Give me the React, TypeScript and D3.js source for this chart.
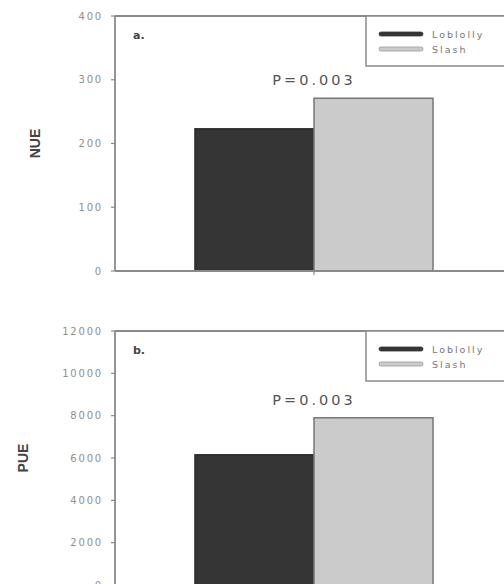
import React from 'react';
import * as d3 from 'd3';

const species = ['Loblolly', 'Slash'];
const nueValues = [223, 271];
const pueValues = [6150, 7900];
const nueTicks = [0, 100, 200, 300, 400];
const pueTicks = [0, 2000, 4000, 6000, 8000, 10000, 12000];

const C = { dark: '#353535', light: '#cbcbcb', axis: '#8a8a8a', tick: '#8f8f8f', text: '#555' };
const FONT = '"DejaVu Sans", sans-serif';

type PanelProps = {
  top: number; bottom: number; label: string; yLabel: string;
  values: number[]; ticks: number[]; max: number; yLabelX: number;
};

function Panel({ top, bottom, label, yLabel, values, ticks, max, yLabelX }: PanelProps) {
  const left = 115, right = 513;
  const y = d3.scaleLinear().domain([0, max]).range([bottom, top]);
  const group = d3.scaleBand().domain(['all']).range([left, right]).paddingOuter(0.336).paddingInner(0);
  const x = d3.scaleBand().domain(species).range([group('all')!, group('all')! + group.bandwidth()]);
  const mid = group('all')! + group.bandwidth() / 2;
  const pY = y(d3.max(values)!) - 13;
  return (
    <g>
      {/* axes frame */}
      <line x1={left} x2={left} y1={top} y2={bottom} stroke={C.axis} strokeWidth={1.8} />
      <line x1={left} x2={520} y1={top} y2={top} stroke={C.axis} strokeWidth={1.8} />
      {ticks.map(t => (
        <g key={t}>
          <line x1={left - 4} x2={left} y1={y(t)} y2={y(t)} stroke={C.axis} strokeWidth={1.2} />
          <text x={left - 12} y={y(t) + 3.5} textAnchor="end" fontFamily={FONT} fontSize={10}
            letterSpacing={1.8} fill={C.tick}>{t}</text>
        </g>
      ))}
      <text transform={`translate(${yLabelX},${(top + bottom) / 2}) rotate(-90)`} textAnchor="middle"
        fontFamily='"Liberation Sans", Arial, sans-serif' fontWeight="bold" fontSize={14} fill="#444">{yLabel}</text>
      <text x={left + 18} y={top + 23} fontFamily={FONT} fontWeight="bold" fontSize={11} fill="#444">{label}</text>
      {/* bars */}
      {values.map((v, i) => (
        <rect key={species[i]} x={x(species[i])!} y={y(v)} width={x.bandwidth()} height={bottom - y(v)}
          fill={i === 0 ? C.dark : C.light} stroke={i === 0 ? '#2a2a2a' : '#777'} strokeWidth={1.5} />
      ))}
      <line x1={left} x2={520} y1={bottom} y2={bottom} stroke={C.axis} strokeWidth={1.8} />
      <line x1={mid} x2={mid} y1={bottom} y2={bottom + 4} stroke={C.axis} strokeWidth={1.2} />
      <text x={mid} y={pY} textAnchor="middle" fontFamily={FONT} fontSize={14.5} letterSpacing={3}
        fill={C.text}>P=0.003</text>
      {/* legend */}
      <rect x={366} y={top} width={160} height={50} fill="#fff" stroke={C.axis} strokeWidth={1.5} />
      {species.map((s, i) => (
        <g key={s}>
          <rect x={379} y={top + 16 + i * 15} width={44} height={4} rx={2}
            fill={i === 0 ? C.dark : C.light} stroke={i === 0 ? C.dark : '#999'} strokeWidth={0.8} />
          <text x={432} y={top + 21.5 + i * 15} fontFamily={FONT} fontSize={9.5} letterSpacing={2}
            fill="#777">{s}</text>
        </g>
      ))}
    </g>
  );
}

export default function App() {
  return (
    <svg width={504} height={584} style={{ position: 'absolute', left: 0, top: 0, background: '#fff' }}>
      <rect width={504} height={584} fill="#fff" />
      <Panel top={16} bottom={271} label="a." yLabel="NUE" values={nueValues} ticks={nueTicks} max={400} yLabelX={40} />
      <Panel top={331} bottom={585} label="b." yLabel="PUE" values={pueValues} ticks={pueTicks} max={12000} yLabelX={28} />
    </svg>
  );
}
